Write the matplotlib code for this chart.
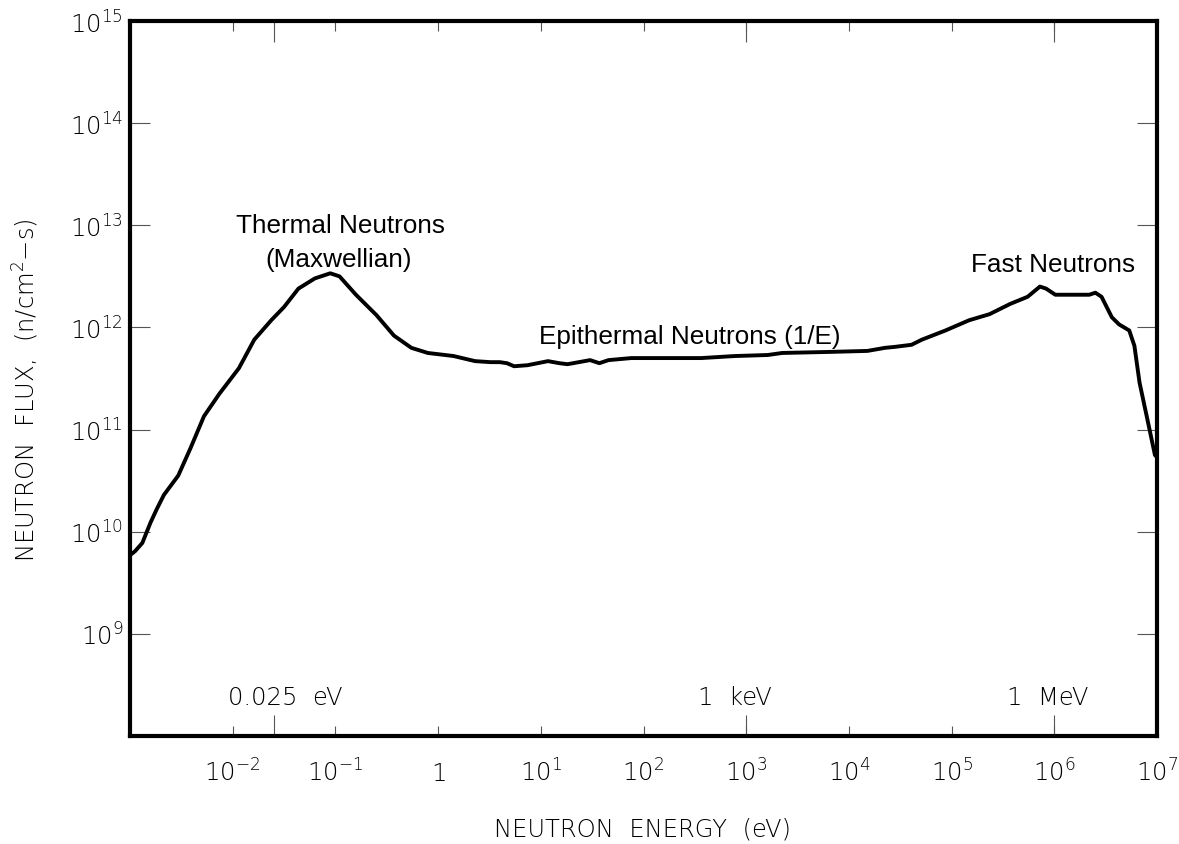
import matplotlib
matplotlib.use('Agg')
import matplotlib.pyplot as plt
from matplotlib.ticker import FixedLocator, NullLocator, NullFormatter
import numpy as np

# spectrum, as log10 values
log_energy = [-3.00, -2.95, -2.88, -2.80, -2.74, -2.67, -2.53, -2.41, -2.28, -2.13,
              -1.94, -1.79, -1.625, -1.50, -1.36, -1.20, -1.05, -0.96, -0.80, -0.60,
              -0.43, -0.26, -0.10, 0.15, 0.36, 0.51, 0.60, 0.67, 0.74, 0.87,
              1.07, 1.18, 1.26, 1.48, 1.57, 1.66, 1.88, 2.23, 2.56, 2.89,
              3.21, 3.35, 3.80, 4.18, 4.35, 4.45, 4.61, 4.71, 4.94, 5.17,
              5.37, 5.57, 5.74, 5.86, 5.92, 6.01, 6.17, 6.34, 6.40, 6.46,
              6.56, 6.63, 6.73, 6.78, 6.83, 6.90, 6.98, 7.00]
log_flux = [9.77, 9.81, 9.89, 10.09, 10.22, 10.36, 10.55, 10.82, 11.13, 11.35,
            11.60, 11.88, 12.07, 12.20, 12.38, 12.48, 12.53, 12.50, 12.32, 12.12,
            11.92, 11.80, 11.75, 11.72, 11.67, 11.66, 11.66, 11.65, 11.62, 11.63,
            11.67, 11.65, 11.64, 11.68, 11.65, 11.68, 11.70, 11.70, 11.70, 11.72,
            11.73, 11.75, 11.76, 11.77, 11.80, 11.81, 11.83, 11.88, 11.97, 12.07,
            12.13, 12.23, 12.30, 12.40, 12.38, 12.32, 12.32, 12.32, 12.34, 12.30,
            12.10, 12.03, 11.97, 11.82, 11.46, 11.13, 10.75, 10.73]

x_decades = [-2, -1, 0, 1, 2, 3, 4, 5, 6, 7]
y_decades = [9, 10, 11, 12, 13, 14, 15]
long_ticks = [0.025, 1e3, 1e6]
marker_labels = ['0.025  eV', '1  keV', '1  MeV']

tick_font = 'DejaVu Sans'
tick_weight = 'light'
note_font = 'Liberation Sans'


def pow_label(p):
    if p == 0:
        return r'$\mathregular{1}$'
    return r'$\mathregular{10^{%d}}$' % p


energy = 10.0 ** np.array(log_energy)
flux = 10.0 ** np.array(log_flux)

fig = plt.figure(figsize=(11.79, 8.45), dpi=100)
ax = fig.add_axes([130/1179, 1 - 737/845, 1027/1179, 715/845])

ax.plot(energy, flux, color='black', lw=2.8, solid_joinstyle='round',
        solid_capstyle='round', clip_on=False)

ax.set_xscale('log')
ax.set_yscale('log')
ax.set_xlim(1e-3, 1e7)
ax.set_ylim(1e8, 1e15)

for s in ax.spines.values():
    s.set_linewidth(3.0)

# x ticks: short at decades, long at the marked energies
ax.xaxis.set_major_locator(FixedLocator([10.0 ** p for p in x_decades]))
ax.set_xticklabels([pow_label(p) for p in x_decades], fontsize=17.5,
                   family=tick_font, weight=tick_weight)
ax.xaxis.set_minor_locator(FixedLocator(long_ticks))
ax.xaxis.set_minor_formatter(NullFormatter())
ax.xaxis.remove_overlapping_locs = False
ax.tick_params(axis='x', which='major', direction='in', top=True, length=7.5,
               width=0.8, color='#555555', pad=32)
ax.tick_params(axis='x', which='minor', direction='in', top=True, length=15,
               width=0.8, color='#555555')
for lab in ax.get_xticklabels():
    lab.set_va('baseline')

ax.yaxis.set_major_locator(FixedLocator([10.0 ** p for p in y_decades]))
ax.set_yticklabels([pow_label(p) for p in y_decades], fontsize=17.5,
                   family=tick_font, weight=tick_weight)
ax.yaxis.set_minor_locator(NullLocator())
ax.tick_params(axis='y', which='major', direction='in', right=True, length=14.5,
               width=0.8, color='#555555', pad=5)

# energy markers above the long ticks
for xf, txt in zip([0.151, 0.589, 0.894], marker_labels):
    ax.text(xf, 0.045, txt, transform=ax.transAxes, ha='center', va='baseline',
            fontsize=17.5, family=tick_font, weight=tick_weight)

# region names
ax.text(0.2045, 0.705, 'Thermal Neutrons', transform=ax.transAxes, ha='center',
        va='baseline', fontsize=18.8, family=note_font)
ax.text(0.2035, 0.657, '(Maxwellian)', transform=ax.transAxes, ha='center',
        va='baseline', fontsize=18.8, family=note_font)
ax.text(0.5453, 0.5497, 'Epithermal Neutrons (1/E)', transform=ax.transAxes, ha='center',
        va='baseline', fontsize=18.8, family=note_font)
ax.text(0.8987, 0.6503, 'Fast Neutrons', transform=ax.transAxes, ha='center',
        va='baseline', fontsize=18.8, family=note_font)

fig.text(643/1179, 1 - 837/845, 'NEUTRON  ENERGY  (eV)', ha='center', va='baseline',
         fontsize=17.5, family=tick_font, weight=tick_weight)
fig.text(26/1179, 1 - 390/845, r'NEUTRON  FLUX,  (n/cm$\mathregular{^{2}}$$\mathregular{-}$s)',
         rotation=90, ha='center', va='center', fontsize=17.5,
         family=tick_font, weight=tick_weight)

fig.savefig('out.png', dpi=100)
